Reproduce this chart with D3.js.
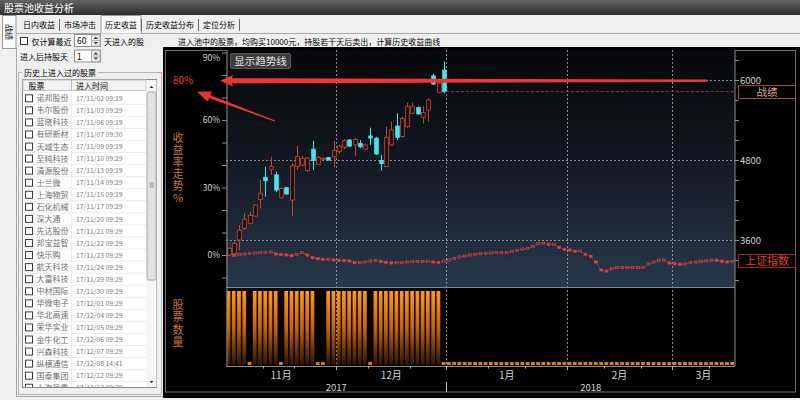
<!DOCTYPE html>
<html>
<head>
<meta charset="utf-8">
<script src="https://cdn.jsdelivr.net/npm/d3@7"></script>
<style>
  body { margin: 0; background: #efefef; overflow: hidden; }
  svg text { font-family: "Noto Sans CJK SC", sans-serif; }
  .vtitle { writing-mode: vertical-rl; text-orientation: upright; }
</style>
</head>
<body>
<svg id="chart" width="800" height="400"></svg>
<script>
// ---- data ----
const stockNames = ['诺邦股份', '韦尔股份', '蓝晓科技', '有研新材', '天域生态', '至纯科技', '清源股份', '士兰微',
  '上海物贸', '石化机械', '深大通', '先达股份', '邦宝益智', '快乐购', '航天科技', '大富科技', '中材国际',
  '华微电子', '华北高速', '荣华实业', '金牛化工', '兴森科技', '纵横通信', '国泰集团', '上海凤凰'];
const entryTimes = ['17/11/02 09:29', '17/11/03 09:29', '17/11/06 09:29', '17/11/07 09:30', '17/11/09 09:29',
  '17/11/10 09:29', '17/11/13 09:29', '17/11/14 09:29', '17/11/15 09:29', '17/11/17 09:29', '17/11/20 09:29',
  '17/11/21 09:29', '17/11/22 09:29', '17/11/23 09:29', '17/11/24 09:29', '17/11/29 09:29', '17/11/30 09:29',
  '17/12/01 09:29', '17/12/04 09:29', '17/12/05 09:29', '17/12/06 09:29', '17/12/07 09:29', '17/12/08 14:41',
  '17/12/12 09:29', '17/12/13 09:29'];

// cumulative return (%) candles, one per day from 2017-11-02
const candleOpen = [0, 0.6, 6.7, 11.9, 14.1, 17.3, 24.7, 34.5, 38.1, 35.6, 25.5, 29.9, 24.4, 39.3, 40, 37.5,
  47, 40.3, 42.6, 43.3, 43.7, 46, 47.9, 51.1, 48.9, 49.6, 47, 52.9, 51.9, 42, 39.3, 48.9, 57.3, 52.6, 57, 63,
  65.5, 61.2, 64.4, 79.6, 72.3, 82.2];
const candleClose = [3, 5.2, 11, 15.9, 17.6, 22.2, 27.4, 33, 39.3, 28.9, 29.6, 27.1, 39.6, 43.7, 43, 43,
  42, 43.4, 43, 42.2, 46.4, 48.4, 50.8, 48.4, 51.4, 48.1, 48.9, 52, 44.9, 40.7, 52.3, 55.6, 52.3, 60.7, 66, 66.2,
  62.7, 63.3, 68.9, 76, 76.3, 72.6];
const candleHigh = [3.5, 5.8, 13.3, 18.5, 19.2, 22.6, 33.3, 39.3, 43.7, 37, 30.2, 30.3, 40.7, 48.4, 44, 43.6,
  50.7, 44, 43.3, 43.6, 50.7, 49, 51.5, 51.6, 52, 51.1, 49.5, 56.6, 52.5, 44.5, 57, 59.3, 63, 61.5, 67.7, 67.7,
  66, 66, 69.5, 80.5, 77, 86];
const candleLow = [-0.5, 0, 2.2, 11, 13.5, 17, 20.7, 26, 35.6, 28, 25, 26.8, 17.3, 37.8, 39.5, 37, 37.8, 40,
  42.4, 42, 39, 45, 47, 48, 44, 47.4, 46.5, 48.9, 44.5, 37.5, 39, 48.5, 51.1, 52, 56.5, 62.5, 62.3, 58.5, 59.3,
  75.5, 72, 71.9];

// 上证指数 close, one per weekday from 2017-11-02 to 2018-03-16
const indexClose = [3390, 3370, 3380, 3390, 3400, 3405, 3410, 3415, 3420, 3390, 3380, 3375, 3365, 3385,
  3410, 3375, 3335, 3320, 3310, 3310, 3300, 3295, 3290, 3285, 3260, 3260, 3270, 3285, 3290, 3280, 3265, 3255,
  3260, 3260, 3270, 3275, 3275, 3275, 3280, 3270, 3265, 3285, 3300, 3320, 3345, 3360, 3375, 3385,
  3395, 3400, 3405, 3410, 3410, 3410, 3430, 3445, 3465, 3475, 3505, 3545, 3550, 3535, 3535, 3490, 3460,
  3450, 3430, 3435, 3385, 3355, 3270, 3150, 3135, 3170, 3185, 3185, 3185, 3185, 3185, 3190, 3240, 3268,
  3298, 3300, 3255, 3242, 3236, 3240, 3262, 3270, 3275, 3288, 3298, 3296, 3282, 3272, 3278];

// number of stocks in the pool per weekday
const poolCount = [1, 1, 1, 1, 0, 1, 1, 1, 1, 1, 0, 1, 1, 1, 1, 1, 1, 0, 0, 1, 1, 1, 1, 1, 1, 1, 1, 0, 1, 1,
  1, 1, 1, 1, 1, 1, 1, 1, 1, 1, 1,
  0, 0, 0, 0, 0, 0, 0, 0, 0, 0, 0, 0, 0, 0,
  0, 0, 0, 0, 0, 0, 0, 0, 0, 0, 0, 0, 0, 0,
  0, 0, 0, 0, 0, 0, 0, 0, 0, 0, 0, 0, 0, 0,
  0, 0, 0, 0, 0, 0, 0, 0, 0, 0, 0, 0, 0, 0];

const monthLabels = ['11月', '12月', '1月', '2月', '3月'];
const yearLabels = ['2017', '2018'];
const tabLabels = ['日内收益', '市场冲击', '历史收益', '历史收益分布', '定位分析'];
const pctTicks = [-10, 0, 10, 20, 30, 40, 50, 60, 70, 80, 90];
const indexTicks = [3000, 3300, 3600, 3900, 4200, 4500, 4800, 5100, 5400, 5700, 6000, 6300];
const indexLabelled = [3600, 4800, 6000];

const svg = d3.select('#chart');
const defs = svg.append('defs');
const mono = '"DejaVu Sans Mono", monospace';
const latin = '"Liberation Sans", Arial, sans-serif';

function vGrad(id, stops) {
  const g = defs.append('linearGradient').attr('id', id)
    .attr('x1', 0).attr('y1', 0).attr('x2', 0).attr('y2', 1);
  stops.forEach(([o, c]) => g.append('stop').attr('offset', o).attr('stop-color', c));
}
vGrad('titleGrad', [[0, '#626262'], [1, '#2f2f2f']]);
vGrad('panelGrad', [[0, '#060709'], [0.45, '#111821'], [1, '#27384c']]);
vGrad('barGrad', [[0, '#ff9a1c'], [0.5, '#c86208'], [1, '#2e1402']]);

// ---- window chrome ----
svg.append('rect').attr('width', 800).attr('height', 15).attr('fill', 'url(#titleGrad)');
svg.append('text').attr('x', 4).attr('y', 11.5).attr('fill', '#fff').attr('font-size', 10).text('股票池收益分析');

svg.append('line').attr('x1', 16).attr('x2', 800).attr('y1', 33.5).attr('y2', 33.5).attr('stroke', '#a8a8a8');
svg.append('line').attr('x1', 16.5).attr('x2', 16.5).attr('y1', 48).attr('y2', 396).attr('stroke', '#a8a8a8');
svg.append('line').attr('x1', 16).attr('x2', 800).attr('y1', 396.5).attr('y2', 396.5).attr('stroke', '#a8a8a8');

// vertical side tab
svg.append('rect').attr('x', 2.5).attr('y', 15.5).attr('width', 13.5).attr('height', 33)
  .attr('fill', '#fafafa').attr('stroke', '#9a9a9a');
svg.append('text').attr('transform', 'translate(6,24) rotate(90)').attr('font-size', 8).text('战绩');

// tab strip
let tx = 23;
tabLabels.forEach((t, i) => {
  const w = t.length * 8;
  if (i === 2) {
    svg.append('path').attr('d', `M${tx - 4},33.5V15.5H${tx + w + 4}V33.5`)
      .attr('fill', '#fbfbfb').attr('stroke', '#9a9a9a');
  }
  svg.append('text').attr('x', tx).attr('y', 28).attr('font-size', 8).text(t);
  if (i !== 1) {
    svg.append('line').attr('x1', tx + w + 4.5).attr('x2', tx + w + 4.5).attr('y1', 19).attr('y2', 31)
      .attr('stroke', '#6a6a6a');
  }
  tx += w + 9;
});

// option controls
function spin(x, y, val) {
  svg.append('rect').attr('x', x).attr('y', y).attr('width', 26).attr('height', 12)
    .attr('fill', '#fff').attr('stroke', '#8c8c8c');
  svg.append('text').attr('x', x + 2.5).attr('y', y + 9.5).attr('font-size', 8.5).attr('font-family', latin).text(val);
  svg.append('rect').attr('x', x + 17).attr('y', y + 0.5).attr('width', 8.5).attr('height', 11)
    .attr('fill', '#ececec').attr('stroke', '#b0b0b0');
  svg.append('line').attr('x1', x + 17).attr('x2', x + 25.5).attr('y1', y + 6).attr('y2', y + 6).attr('stroke', '#b0b0b0');
  svg.append('path').attr('d', `M${x + 19},${y + 4.5}l2.3,-2.3l2.3,2.3z M${x + 19},${y + 7.5}l2.3,2.3l2.3,-2.3z`)
    .attr('fill', '#333');
}
svg.append('rect').attr('x', 20.5).attr('y', 37.5).attr('width', 7).attr('height', 7)
  .attr('fill', '#fff').attr('stroke', '#333');
svg.append('text').attr('x', 31.5).attr('y', 45).attr('font-size', 8).text('仅计算最近');
spin(74.5, 34.5, '60');
svg.append('text').attr('x', 104).attr('y', 45).attr('font-size', 8).text('天进入的股');
svg.append('text').attr('x', 20).attr('y', 60).attr('font-size', 8).text('进入后持股天');
spin(74.5, 50, '1');
svg.append('text').attr('x', 178).attr('y', 45).attr('font-size', 8)
  .text('进入池中的股票，均购买10000元，持股若干天后卖出，计算历史收益曲线');

// group box with stock list
svg.append('rect').attr('x', 18.5).attr('y', 72.5).attr('width', 143).attr('height', 322)
  .attr('fill', 'none').attr('stroke', '#b4b4b4');
svg.append('rect').attr('x', 22).attr('y', 68).attr('width', 76).attr('height', 9).attr('fill', '#efefef');
svg.append('text').attr('x', 24).attr('y', 75.5).attr('font-size', 8).text('历史上进入过的股票');

svg.append('rect').attr('x', 22.5).attr('y', 79.5).attr('width', 134).attr('height', 308)
  .attr('fill', '#fff').attr('stroke', '#8a8a8a');
svg.append('rect').attr('x', 23).attr('y', 80).attr('width', 123).attr('height', 10.5)
  .attr('fill', '#f2f2f2').attr('stroke', '#c4c4c4');
svg.append('line').attr('x1', 71.5).attr('x2', 71.5).attr('y1', 80).attr('y2', 90.5).attr('stroke', '#b8b8b8');
svg.append('text').attr('x', 28.5).attr('y', 88.5).attr('font-size', 8).text('股票');
svg.append('text').attr('x', 76).attr('y', 88.5).attr('font-size', 8).text('进入时间');

defs.append('clipPath').attr('id', 'listClip')
  .append('rect').attr('x', 23).attr('y', 91).attr('width', 123).attr('height', 296);
const list = svg.append('g').attr('clip-path', 'url(#listClip)');
const rowY = d3.scaleLinear().domain([0, 1]).range([98.3, 110.36]);
stockNames.forEach((name, i) => {
  const cy = rowY(i);
  list.append('line').attr('x1', 23).attr('x2', 146).attr('y1', cy + 6).attr('y2', cy + 6).attr('stroke', '#ececec');
  list.append('line').attr('x1', 71.5).attr('x2', 71.5).attr('y1', cy - 6).attr('y2', cy + 6).attr('stroke', '#ececec');
  list.append('rect').attr('x', 25.5).attr('y', cy - 3.5).attr('width', 7).attr('height', 7)
    .attr('fill', '#fff').attr('stroke', '#3a3a3a');
  list.append('text').attr('x', 36.5).attr('y', cy + 3).attr('font-size', 8).attr('fill', '#6e6e6e').text(name);
  list.append('text').attr('x', 76).attr('y', cy + 2.6).attr('font-size', 6.8).attr('font-family', mono)
    .attr('fill', '#7a7a7a').text(entryTimes[i]);
});
// scrollbar
svg.append('rect').attr('x', 146.5).attr('y', 80).attr('width', 10).attr('height', 307).attr('fill', '#f4f4f4');
svg.append('rect').attr('x', 147).attr('y', 92).attr('width', 9).attr('height', 188).attr('rx', 1.5)
  .attr('fill', '#e2e2e2').attr('stroke', '#a8a8a8');
[183, 185, 187].forEach(v => svg.append('line').attr('x1', 149.5).attr('x2', 153.5).attr('y1', v).attr('y2', v)
  .attr('stroke', '#888'));
svg.append('path').attr('d', 'M149.5,88l2,-2.2l2,2.2z M149.5,381l2,2.2l2,-2.2z').attr('fill', '#333');

// ---- chart frame ----
svg.append('rect').attr('x', 163).attr('y', 47).attr('width', 637).attr('height', 351).attr('fill', '#000');
svg.append('rect').attr('x', 165.5).attr('y', 50.5).attr('width', 630).attr('height', 341.5)
  .attr('fill', 'none').attr('stroke', '#6c6c6c');

const plot = { left: 226, right: 735, top: 50, mid: 287, base: 366 };
const fmt = d3.timeFormat('%Y-%m-%d');
const days = d3.timeDay.range(new Date(2017, 10, 2), new Date(2018, 2, 17)).filter(d => d.getDay() % 6 !== 0);
const keys = days.map(fmt);

const x = d3.scaleBand().domain(keys).range([plot.left, plot.right]);
const bw = x.bandwidth();
const cx = i => x(keys[i]) + bw / 2;
const yP = d3.scaleLinear().domain([-14.2, 91.1]).range([plot.mid, plot.top]);
const yR = d3.scaleLinear().domain([2895, 6450]).range([plot.mid, plot.top]);
const yB = d3.scaleLinear().domain([0, 1]).range([365, 291]);

svg.append('rect').attr('x', plot.left).attr('y', plot.top).attr('width', plot.right - plot.left)
  .attr('height', plot.mid - plot.top).attr('fill', 'url(#panelGrad)');

// grid
const monthStarts = days.filter((d, i) => i > 0 && d.getMonth() !== days[i - 1].getMonth());
const grid = svg.append('g').attr('stroke', '#9a9a9a').attr('stroke-dasharray', '2,2').attr('stroke-width', 0.9);
monthStarts.forEach(d => {
  const gx = Math.round(x(fmt(d))) + 0.5;
  grid.append('line').attr('x1', gx).attr('x2', gx).attr('y1', plot.top).attr('y2', plot.base);
});
indexLabelled.forEach(v => {
  grid.append('line').attr('x1', plot.left).attr('x2', plot.right).attr('y1', yR(v) + 0.5).attr('y2', yR(v) + 0.5);
});

svg.append('line').attr('x1', plot.left).attr('x2', plot.right).attr('y1', plot.mid + 0.5).attr('y2', plot.mid + 0.5)
  .attr('stroke', '#7d8c9c');

// ---- stock count bars ----
svg.append('g').selectAll('rect').data(poolCount).join('rect')
  .attr('x', (d, i) => x(keys[i]) + 0.6)
  .attr('width', bw - 1.5)
  .attr('y', d => Math.min(yB(d), yB(0) - 3))
  .attr('height', d => Math.max(3, yB(0) - yB(d)))
  .attr('fill', d => d > 0 ? 'url(#barGrad)' : '#e07d1e');

// ---- index line ----
const indexG = svg.append('g');
indexG.append('path').datum(indexClose)
  .attr('d', d3.line().x((d, i) => cx(i)).y(d => yR(d)))
  .attr('fill', 'none').attr('stroke', '#c2343a').attr('stroke-width', 0.9).attr('stroke-dasharray', '2.6,1.4');
indexG.selectAll('rect').data(indexClose).join('rect')
  .attr('x', (d, i) => cx(i) - 1.4).attr('width', 2.8)
  .attr('y', d => yR(d) - 1.1).attr('height', 2.2)
  .attr('fill', (d, i) => i > 0 && d < indexClose[i - 1] ? '#e33c3c' : 'none')
  .attr('stroke', '#d5403f').attr('stroke-width', 0.7);

// ---- return candles ----
const cg = svg.append('g');
candleOpen.forEach((o, i) => {
  const c = candleClose[i];
  const up = c >= o;
  const col = up ? '#c9442f' : '#46e4f0';
  const top = yP(Math.max(o, c)), bot = yP(Math.min(o, c));
  const px = Math.round(cx(i)) + 0.5;
  cg.append('line').attr('x1', px).attr('x2', px).attr('y1', yP(candleHigh[i])).attr('y2', top).attr('stroke', col);
  cg.append('line').attr('x1', px).attr('x2', px).attr('y1', bot).attr('y2', yP(candleLow[i])).attr('stroke', col);
  cg.append('rect').attr('x', px - 1.8).attr('width', 3.6).attr('y', top).attr('height', Math.max(1, bot - top))
    .attr('fill', up ? '#0b0d12' : col).attr('stroke', col).attr('stroke-width', 0.9);
});
const lastI = candleClose.length - 1;
const lastY = yP(candleClose[lastI]);
svg.append('line').attr('x1', cx(lastI) + 2).attr('x2', plot.right).attr('y1', lastY).attr('y2', lastY)
  .attr('stroke', '#a83030').attr('stroke-dasharray', '3,2');

// ---- axes ----
const axisL = svg.append('g').attr('transform', `translate(${plot.left + 1},0)`)
  .call(d3.axisLeft(yP).tickValues(pctTicks).tickSize(5).tickPadding(2)
    .tickFormat(d => d % 30 === 0 ? d + '%' : ''));
axisL.select('.domain').attr('d', `M0,${plot.top}V${plot.base}`);
axisL.selectAll('path,line').attr('stroke', '#8c8c8c');
axisL.selectAll('text').attr('fill', '#d6d6d6').attr('font-size', 8.5).attr('font-family', latin)
  .attr('dy', d => d === 90 ? '0.95em' : '0.32em');

const axisR = svg.append('g').attr('transform', `translate(${plot.right},0)`)
  .call(d3.axisRight(yR).tickValues(indexTicks).tickSize(4).tickPadding(1)
    .tickFormat(d => indexLabelled.includes(d) ? d : ''));
axisR.select('.domain').attr('d', `M0,${plot.top}V${plot.base}`);
axisR.selectAll('path,line').attr('stroke', '#8c8c8c');
axisR.selectAll('text').attr('fill', '#d6d6d6').attr('font-size', 9.5).attr('font-family', latin);

// x axis
const xa = svg.append('g');
xa.append('line').attr('x1', plot.left).attr('x2', plot.right).attr('y1', plot.base + 0.5).attr('y2', plot.base + 0.5)
  .attr('stroke', '#8c8c8c');
const minorDays = days.filter((d, i) => i > 0 && d.getMonth() === days[i - 1].getMonth() &&
  ((d.getDate() >= 11 && days[i - 1].getDate() < 11) || (d.getDate() >= 21 && days[i - 1].getDate() < 21)));
minorDays.forEach(d => {
  const mx = Math.round(x(fmt(d))) + 0.5;
  xa.append('line').attr('x1', mx).attr('x2', mx).attr('y1', plot.base).attr('y2', plot.base + 2.5).attr('stroke', '#b0b0b0');
});
monthStarts.forEach(d => {
  const mx = Math.round(x(fmt(d))) + 0.5;
  xa.append('line').attr('x1', mx).attr('x2', mx).attr('y1', plot.base).attr('y2', plot.base + 4).attr('stroke', '#b0b0b0');
});
const bounds = [plot.left, ...monthStarts.map(d => x(fmt(d))), plot.right];
monthLabels.forEach((m, i) => {
  xa.append('text').attr('x', (bounds[i] + bounds[i + 1]) / 2).attr('y', 379).attr('text-anchor', 'middle')
    .attr('font-size', 10).attr('fill', '#d6d6d6').text(m);
});
const yearStart = monthStarts.find(d => d.getMonth() === 0);
const yb = [plot.left, x(fmt(yearStart)), plot.right];
yearLabels.forEach((y, i) => {
  xa.append('text').attr('x', (yb[i] + yb[i + 1]) / 2).attr('y', 391).attr('text-anchor', 'middle')
    .attr('font-size', 9.5).attr('font-family', latin).attr('fill', '#d6d6d6').text(y);
});
xa.append('line').attr('x1', Math.round(yb[1]) + 0.5).attr('x2', Math.round(yb[1]) + 0.5)
  .attr('y1', 382).attr('y2', 392).attr('stroke', '#c8c8c8');

// vertical titles
svg.append('text').attr('class', 'vtitle').attr('x', 178).attr('y', 132)
  .attr('font-size', 11).attr('letter-spacing', 1).attr('fill', '#c4743a').text('收益率走势%');
svg.append('text').attr('class', 'vtitle').attr('x', 178).attr('y', 299)
  .attr('font-size', 11).attr('letter-spacing', 1.5).attr('fill', '#c4743a').text('股票数量');

// series tags on the right
function tag(y, label, stroke, fill, size) {
  svg.append('rect').attr('x', 738.5).attr('y', Math.round(y) - 6.5).attr('width', 57).attr('height', 13)
    .attr('fill', '#000').attr('stroke', stroke);
  svg.append('text').attr('x', 767).attr('y', Math.round(y) + 4).attr('text-anchor', 'middle')
    .attr('font-size', size).attr('fill', fill).text(label);
}
tag(lastY, '战绩', '#9c4a48', '#dcaaa0', 10.5);
tag(yR(indexClose[indexClose.length - 1]), '上证指数', '#9c2a2a', '#e63b3b', 11);

// trend button
svg.append('rect').attr('x', 230.5).attr('y', 53.5).attr('width', 60).attr('height', 15).attr('rx', 1.5)
  .attr('fill', '#3b3b3b').attr('stroke', '#5a5a5a');
svg.append('text').attr('x', 260.5).attr('y', 65).attr('text-anchor', 'middle').attr('font-size', 10.5)
  .attr('fill', '#e2e2e2').text('显示趋势线');

// ---- hand-drawn red annotation ----
const ay = yR(6000) + 0.7;
svg.append('polygon').attr('fill', '#f0362e')
  .attr('points', [[220, ay], [233, ay - 5.6], [232, ay - 2.5], [707, ay - 1.3], [707, ay + 1.4],
    [232, ay + 2.6], [233, ay + 5.8]].join(' '));
svg.append('polygon').attr('fill', '#ee342c')
  .attr('points', [[196.7, 91.7], [211.8, 91.6], [210.6, 95.2], [275.2, 120.6], [274.8, 121.6],
    [209.4, 98.2], [207.8, 101.6]].join(' '));
svg.append('text').attr('x', 173).attr('y', 84).attr('font-size', 10).attr('font-family', latin)
  .attr('fill', '#e33a30').text('80%');
</script>
</body>
</html>
